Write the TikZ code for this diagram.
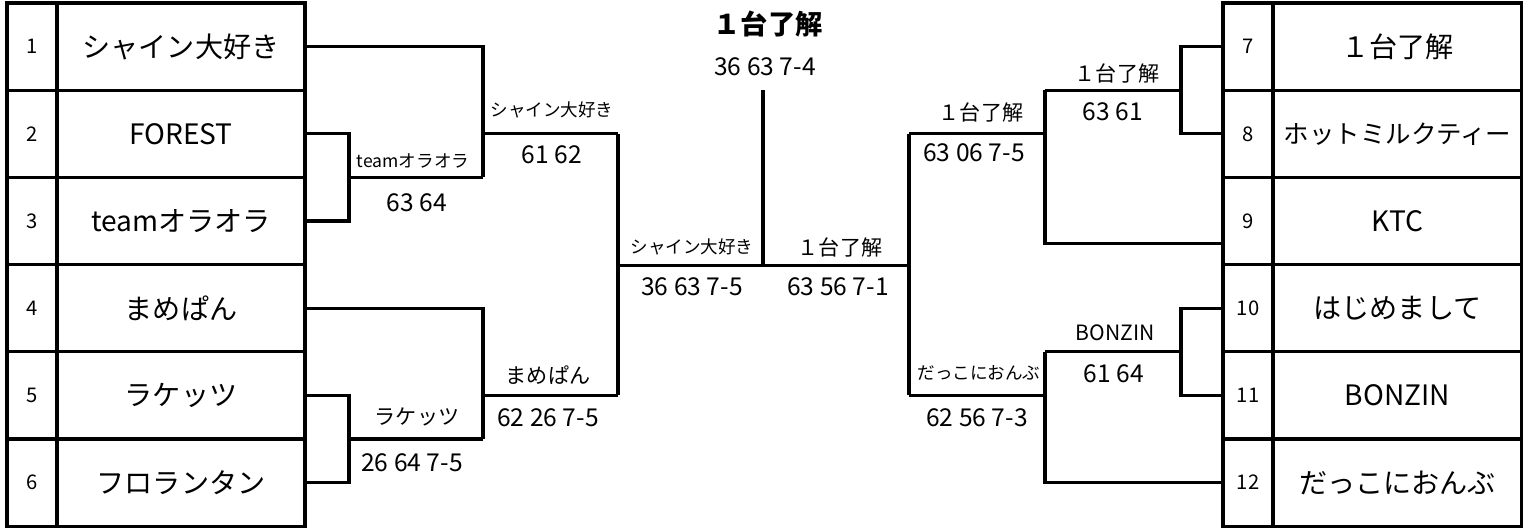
\documentclass[tikz,border=0pt]{standalone}
\usepackage{fontspec}
\setmainfont{Noto Sans CJK JP}
\usetikzlibrary{calc}

\begin{document}
\begin{tikzpicture}[x=0.02cm,y=-0.02cm,
  seed/.style={draw,line width=1.8pt,rectangle,inner sep=0pt,minimum width=1cm,minimum height=1.744cm,font=\fontsize{11.5}{13}\selectfont},
  team/.style={draw,line width=1.8pt,rectangle,inner sep=0pt,minimum width=4.96cm,minimum height=1.744cm,font=\fontsize{16}{18}\selectfont},
  br/.style={line width=1.8pt},
  win/.style={inner sep=0pt,font=\fontsize{12}{14}\selectfont},
  winsmall/.style={inner sep=0pt,font=\fontsize{10}{12}\selectfont},
  score/.style={inner sep=0pt,font=\fontsize{14}{16}\selectfont}]
\fill[white] (0,0) rectangle (1527,528);
\useasboundingbox (0,0) rectangle (1527,528);

% left table
\foreach \i/\nm in {1/シャイン大好き,2/FOREST,3/teamオラオラ,4/まめぱん,5/ラケッツ,6/フロランタン}
	{
	\node[seed] (l\i) at (32,{3+87.2*(\i-0.5)}) {\i};
	\node[team] (n\i) at (181,{3+87.2*(\i-0.5)}) {\nm};
	}
% right table
\foreach \i/\nm in {7/１台了解,8/{\fontsize{14.5}{16}\selectfont ホットミルクティー},9/KTC,10/はじめまして,11/BONZIN,12/だっこにおんぶ}
	{
	\node[seed] (r\i) at (1248,{3+87.2*(\i-6.5)}) {\i};
	\node[team] (m\i) at (1397.5,{3+87.2*(\i-6.5)}) {\nm};
	}

% left upper
\coordinate (b23) at (349,177.4);
\coordinate (q1) at (483,177.4);
\coordinate (e1) at (483,133.8);
\coordinate (s1) at (618,133.8);
\draw[br] (n2.east) -| (b23) |- (n3.east);
\draw[br] (b23) -- (q1);
\draw[br] (n1.east) -| (q1);
\draw[br] (e1) -- (s1);

% left lower
\coordinate (b56) at (349,439);
\coordinate (q4) at (483,439);
\coordinate (e4) at (483,395.4);
\coordinate (s4) at (618,395.4);
\draw[br] (n5.east) -| (b56) |- (n6.east);
\draw[br] (b56) -- (q4);
\draw[br] (n4.east) -| (q4);
\draw[br] (e4) -- (s4);
\draw[br] (s1) -- (s4);

% final
\coordinate (fl) at (618,265.6);
\coordinate (fr) at (909,265.6);
\coordinate (fc) at (763,265.6);
\coordinate (top) at (763,90);
\draw[br] (fl) -- (fr);
\draw[br] (top) -- (fc);

% right upper
\coordinate (b78) at (1181,90.2);
\coordinate (q7) at (1045,90.2);
\coordinate (c9) at ($(r9.west)!0.5!(r9.south west)$);
\coordinate (e7) at (1045,133.8);
\coordinate (s7) at (909,133.8);
\draw[br] (r7.west) -| (b78) |- (r8.west);
\draw[br] (b78) -- (q7);
\draw[br] (q7) |- (c9);
\draw[br] (e7) -- (s7);

% right lower
\coordinate (b1011) at (1181,351.8);
\coordinate (q10) at (1045,351.8);
\coordinate (e10) at (1045,395.4);
\coordinate (s10) at (909,395.4);
\draw[br] (r10.west) -| (b1011) |- (r11.west);
\draw[br] (b1011) -- (q10);
\draw[br] (q10) |- (r12.west);
\draw[br] (e10) -- (s10);
\draw[br] (s7) -- (s10);

% results
\node[winsmall] (w23) at (413,161) {teamオラオラ};
\node[score] (p23) at (417,203) {63 64};
\node[winsmall] (w123) at (552,110) {シャイン大好き};
\node[score] (p123) at (552,155) {61 62};
\node[win] (w56) at (417,417) {ラケッツ};
\node[score] (p56) at (412,463) {26 64 7-5};
\node[win] (w456) at (548,375) {まめぱん};
\node[score] (p456) at (548,418) {62 26 7-5};
\node[winsmall] (wl) at (692,247) {シャイン大好き};
\node[score] (pl) at (692,287) {36 63 7-5};
\node[win] (wr) at (840,247) {１台了解};
\node[score] (pr) at (838,287) {63 56 7-1};
\node[inner sep=0pt,font=\fontsize{15.5}{18}\selectfont\bfseries] (champ) at (768,24) {１台了解};
\node[score] (pf) at (765,67) {36 63 7-4};
\node[win] (w789) at (981,112) {１台了解};
\node[score] (p789) at (974,153) {63 06 7-5};
\node[win] (w78) at (1117,73) {１台了解};
\node[score] (p78) at (1113,112) {63 61};
\node[win] (w1011) at (1115,333) {BONZIN};
\node[score] (p1011) at (1114,374) {61 64};
\node[winsmall] (w101112) at (979,373) {だっこにおんぶ};
\node[score] (p101112) at (977,418) {62 56 7-3};
\end{tikzpicture}
\end{document}
